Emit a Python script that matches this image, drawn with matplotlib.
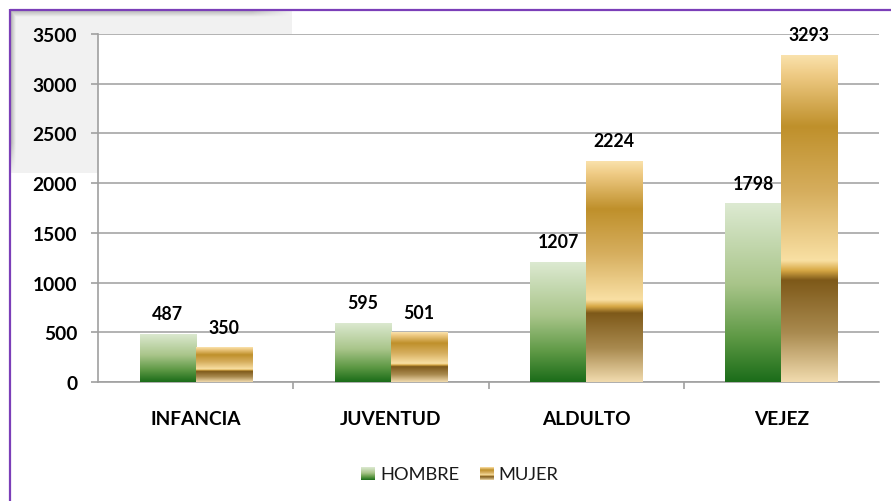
import numpy as np
import matplotlib
matplotlib.use('Agg')
import matplotlib.pyplot as plt
from matplotlib.colors import LinearSegmentedColormap, to_rgb

categories = ['INFANCIA', 'JUVENTUD', 'ALDULTO', 'VEJEZ']
hombre = [487, 595, 1207, 1798]
mujer = [350, 501, 2224, 3293]
series_names = ['HOMBRE', 'MUJER']
yticks = [0, 500, 1000, 1500, 2000, 2500, 3000, 3500]

plt.rcParams['font.family'] = ['Lato', 'DejaVu Sans']

W, H = 891, 502
fig = plt.figure(figsize=(W / 100, H / 100), dpi=100)

green_cmap = LinearSegmentedColormap.from_list('g', [
    (0.0, '#DDEAD2'), (0.45, '#A9C58A'), (0.75, '#5E9945'), (1.0, '#1B6C19')])
gold_cmap = LinearSegmentedColormap.from_list('m', [
    (0.0, '#FAE3AE'), (0.06, '#EFCB85'), (0.22, '#BF902B'), (0.42, '#D6AE5E'),
    (0.63, '#F9E0A4'), (0.66, '#D8A945'), (0.69, '#7E5919'), (0.85, '#A98A4F'),
    (1.0, '#F1DBAE')])
cmaps = [green_cmap, gold_cmap]

# ---- background decorations (pixel coordinates) ----
bg = fig.add_axes([0, 0, 1, 1], zorder=0)
bg.set_xlim(0, W)
bg.set_ylim(H, 0)
bg.axis('off')

bx0, bx1, by0, by1 = 10, 292, 10, 174
xs = np.arange(bx0, bx1) + 0.5
ys = np.arange(by0, by1) + 0.5
XX, YY = np.meshgrid(xs, ys)
base = np.array(to_rgb('#F2F2F2'))
dark = np.array(to_rgb('#A8A8A8'))
t_top = np.clip(1 - (YY - by0) / 8.0, 0, 1) * np.clip((bx1 - XX) / 40.0, 0, 1)
t_left = np.clip(1 - (XX - bx0) / 6.0, 0, 1) * np.clip((by1 - YY) / 30.0, 0, 1)
t = np.maximum(t_top, t_left)[..., None]
img = base * (1 - t) + dark * t
bg.imshow(img, extent=[bx0, bx1, by1, by0], aspect='auto', interpolation='bilinear')
bg.set_xlim(0, W)
bg.set_ylim(H, 0)
purple = '#7B3FB8'
bg.plot([10, W], [10.5, 10.5], color=purple, lw=1.6, solid_capstyle='butt')
bg.plot([10, 10], [10, H], color=purple, lw=1.6, solid_capstyle='butt')

# ---- main chart ----
ax = fig.add_axes([98 / W, 1 - 383 / H, (879 - 98) / W, (383 - 35) / H], zorder=1)
ax.set_facecolor('white')

bw = 0.287
xpos = np.arange(len(categories))
grad = np.linspace(0, 1, 256).reshape(-1, 1)
for s, (vals, off) in enumerate([(hombre, -bw / 2), (mujer, bw / 2)]):
    bars = ax.bar(xpos + off, vals, width=bw, facecolor='none', edgecolor='none', zorder=3)
    for patch, v in zip(bars.patches, vals):
        x0 = patch.get_x()
        im = ax.imshow(grad, cmap=cmaps[s], extent=[x0, x0 + bw, 0, v],
                       aspect='auto', origin='upper', zorder=3, interpolation='bilinear')
        im.set_clip_path(patch)
        ax.annotate(f'{v}', (x0 + bw / 2, v), xytext=(0, 10.5), textcoords='offset points',
                    ha='center', va='baseline', fontsize=12.8, fontweight='bold',
                    color='black', zorder=4)

ax.set_xlim(-0.5, 3.5)
ax.set_ylim(0, 3500)
ax.set_yticks(yticks)
ax.set_yticklabels([str(v) for v in yticks], fontweight='bold', fontsize=13.8)
ax.set_xticks(xpos)
ax.set_xticklabels(categories, fontweight='bold', fontsize=13.8)
ax.set_xticks([0.5, 1.5, 2.5], minor=True)
ax.tick_params(axis='x', which='major', length=0, pad=20)
ax.tick_params(axis='x', which='minor', length=5, color='#A0A0A0', width=1.2)
ax.tick_params(axis='y', length=5, color='#A0A0A0', width=1.2, pad=10)
ax.yaxis.grid(True, color='#A6A6A6', linewidth=1.2)
ax.set_axisbelow(True)
for sp in ['top', 'right']:
    ax.spines[sp].set_visible(False)
for sp in ['left', 'bottom']:
    ax.spines[sp].set_color('#A0A0A0')
    ax.spines[sp].set_linewidth(1.2)

# ---- legend ----
leg_items = [(361, 380), (480, 498)]
for s, (sx, tx) in enumerate(leg_items):
    la = fig.add_axes([sx / W, 1 - 481 / H, 14 / W, 13 / H], zorder=2)
    la.imshow(grad, cmap=cmaps[s], aspect='auto', interpolation='bilinear')
    la.axis('off')
    fig.text(tx / W, 1 - 474.5 / H, series_names[s], va='center', ha='left', fontsize=13.2,
             color='#1a1a1a')

fig.savefig('out.png', dpi=100)
